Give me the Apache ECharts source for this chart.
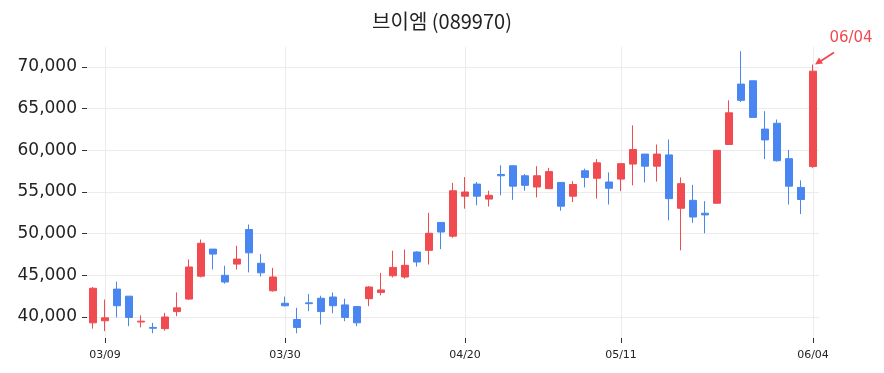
<!DOCTYPE html>
<html>
<head>
<meta charset="utf-8">
<script src="https://cdn.jsdelivr.net/npm/echarts@6/dist/echarts.min.js"></script>
<style>
  html, body { margin: 0; padding: 0; background: #fff; }
  #chart { width: 884px; height: 373px; }
</style>
</head>
<body>
<div id="chart"></div>
<script>
// trading days shown on the chart
const dates = [
  "03/06",
  "03/09", "03/10", "03/11", "03/12", "03/13",
  "03/16", "03/17", "03/18", "03/19", "03/20",
  "03/23", "03/24", "03/25", "03/26", "03/27",
  "03/30", "03/31", "04/01", "04/02", "04/03",
  "04/06", "04/07", "04/08", "04/09", "04/10",
  "04/13", "04/14", "04/15", "04/16", "04/17",
  "04/20", "04/21", "04/22", "04/23", "04/24",
  "04/27", "04/28", "04/29", "04/30",
  "05/04", "05/06", "05/07", "05/08",
  "05/11", "05/12", "05/13", "05/14", "05/15",
  "05/18", "05/19", "05/20", "05/21", "05/22",
  "05/26", "05/27", "05/28", "05/29",
  "06/01", "06/02", "06/04"
];

const opens = [
  39300, 39550, 43350, 42500, 39400, 38750, 38600, 40650, 42150, 44900,
  48150, 45000, 46350, 50500, 46450, 43150, 41650, 39700, 41700, 42250,
  42400, 41450, 41250, 42200, 42950, 44950, 44800, 47800, 48000, 51350,
  49700, 54500, 55950, 54150, 57100, 58150, 56950, 55600, 55400, 56150,
  54500, 57550, 56650, 56200, 56550, 58350, 59550, 58100, 59450, 53050,
  54000, 52450, 53650, 60700, 67950, 68350, 62550, 63250, 59000, 55550,
  58050
];
const closes = [
  43450, 39900, 41350, 39950, 39500, 38650, 40000, 41100, 46000, 48850,
  47550, 44200, 46950, 47700, 45300, 44800, 41350, 38750, 41600, 40650,
  41350, 39950, 39300, 43600, 43250, 45950, 46200, 46600, 50050, 50200,
  55150, 55000, 54500, 54600, 56950, 55700, 55800, 56950, 57450, 53300,
  55900, 56750, 58500, 55450, 58400, 60100, 58100, 59550, 54200, 56000,
  52000, 52250, 60000, 64500, 66000, 63950, 61250, 58750, 55700, 54100,
  69500
];
const lows = [
  38600, 38300, 39950, 38900, 38750, 38050, 38350, 40100, 42050, 44750,
  45700, 44000, 45700, 45350, 44850, 43050, 41250, 38050, 40700, 39100,
  40450, 39500, 38900, 41300, 42600, 44750, 44600, 46050, 46300, 48150,
  49500, 53000, 53400, 53250, 54600, 54050, 55150, 54350, 55400, 52750,
  53800, 55550, 54200, 53500, 55100, 55800, 56150, 56250, 51600, 48000,
  51300, 50050, 53650, 60700, 65800, 63950, 58950, 58650, 53500, 52350,
  57900
];
const highs = [
  43600, 42100, 44250, 42500, 40200, 39300, 40500, 42950, 46900, 49300,
  48150, 46150, 48550, 51100, 47550, 45900, 42450, 41100, 42750, 42550,
  42950, 42200, 41300, 43700, 45300, 47950, 48100, 47900, 52500, 51350,
  56100, 56800, 56200, 55150, 58200, 58150, 57150, 58100, 57900, 56200,
  56300, 57800, 58950, 57350, 58450, 63000, 59550, 60700, 61300, 56750,
  55850, 53900, 60000, 66000, 71900, 68350, 64700, 63700, 60050, 56400,
  70300
];

const xTickLabels = ["03/09", "03/30", "04/20", "05/11", "06/04"];
const yTicks = [40000, 45000, 50000, 55000, 60000, 65000, 70000];

const upColor = "#f04b51";
const downColor = "#4a86f2";

const candles = dates.map((d, i) => [opens[i], closes[i], lows[i], highs[i]]);
const showIdx = (idx) => xTickLabels.includes(dates[idx]);

const chart = echarts.init(document.getElementById("chart"));

chart.setOption({
  animation: false,
  title: {
    text: "브이엠 (089970)",
    left: "center",
    top: 6,
    textStyle: {
      fontFamily: "Noto Sans CJK KR",
      fontSize: 20,
      fontWeight: "normal",
      color: "#222",
    },
  },
  grid: { left: 87, right: 65, top: 47, bottom: 35 },
  xAxis: {
    type: "category",
    data: dates,
    axisLine: { show: false },
    axisTick: {
      show: true,
      alignWithLabel: true,
      interval: showIdx,
      length: 5,
      lineStyle: { color: "#333" },
    },
    axisLabel: {
      interval: showIdx,
      fontFamily: "DejaVu Sans",
      fontSize: 11,
      color: "#222",
      margin: 12,
    },
    splitLine: {
      show: true,
      alignWithLabel: true,
      interval: showIdx,
      lineStyle: { color: "#ececec", width: 1 },
    },
  },
  yAxis: {
    type: "value",
    min: 37480,
    max: 72400,
    axisLine: { show: false },
    axisTick: {
      show: true,
      length: 5,
      customValues: yTicks,
      lineStyle: { color: "#333" },
    },
    axisLabel: {
      customValues: yTicks,
      fontFamily: "DejaVu Sans",
      fontSize: 17,
      color: "#222",
      margin: 10,
      formatter: (v) => v.toLocaleString("en-US"),
    },
    splitLine: {
      show: true,
      lineStyle: { color: "#ececec", width: 1 },
    },
  },
  series: [
    {
      type: "candlestick",
      data: candles,
      barWidth: 8,
      itemStyle: {
        color: upColor,
        color0: downColor,
        borderColor: upColor,
        borderColor0: downColor,
        borderWidth: 1,
      },
    },
  ],
});

// arrow + date note pointing at the last candle's high
const last = dates.length - 1;
const tip = chart.convertToPixel({ xAxisIndex: 0, yAxisIndex: 0 }, [dates[last], highs[last]]);
const tx = tip[0] + 2, ty = tip[1];
chart.setOption({
  graphic: [
    {
      type: "line",
      shape: { x1: tx + 5, y1: ty - 3, x2: tx + 19, y2: ty - 12 },
      style: { stroke: upColor, lineWidth: 2 },
    },
    {
      type: "polygon",
      shape: { points: [[tx, ty], [tx + 4, ty - 7], [tx + 8, ty - 1]] },
      style: { fill: upColor },
    },
    {
      type: "text",
      x: tx + 36,
      y: ty - 26,
      style: {
        text: last >= 0 ? dates[last] : "",
        fill: upColor,
        fontFamily: "DejaVu Sans",
        fontSize: 15,
        align: "center",
        verticalAlign: "middle",
      },
    },
  ],
});
</script>
</body>
</html>
